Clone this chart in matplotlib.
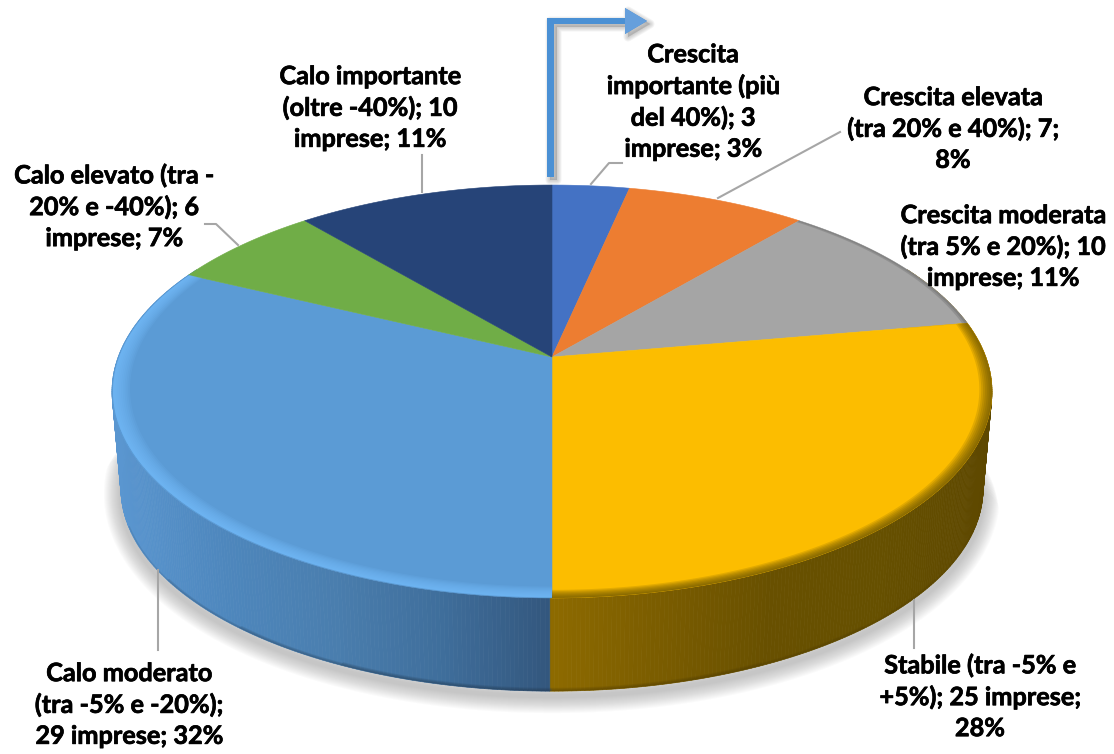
import numpy as np
import matplotlib
matplotlib.use("Agg")
import matplotlib.pyplot as plt
import matplotlib.patheffects as pe
from matplotlib.colors import LinearSegmentedColormap
from matplotlib.patches import Polygon

# imprese per classe di variazione, in senso orario dalle ore 12
counts = [3, 7, 10, 25, 29, 6, 10]
colors = ["#4472c4", "#ed7d31", "#a5a5a5", "#fcbd00", "#5b9bd5", "#70ad47", "#264478"]
labels = [
    "Crescita\nimportante (più\ndel 40%); 3\nimprese; 3%",
    "Crescita elevata\n(tra 20% e 40%); 7;\n8%",
    "Crescita moderata\n(tra 5% e 20%); 10\nimprese; 11%",
    "Stabile (tra -5% e\n+5%); 25 imprese;\n28%",
    "Calo moderato\n(tra -5% e -20%);\n29 imprese; 32%",
    "Calo elevato (tra -\n20% e -40%); 6\nimprese; 7%",
    "Calo importante\n(oltre -40%); 10\nimprese; 11%",
]
label_pos = [(693, 102), (953, 129), (1003, 247), (980, 697), (129, 705), (114, 207), (370, 108)]
leaders = [
    [(591, 184), (609, 163), (622, 163)],
    [(718, 198), (840, 132)],
    None,
    [(914, 600), (914, 648)],
    [(158, 570), (158, 650)],
    [(238, 245), (216, 224), (205, 224)],
    [(422, 192), (422, 155)],
]

CX = 552
K = 0.167


def project(theta, f=1.0, r=433.8, s=200.7, y0=357.0):
    # disco visto in prospettiva: il lato anteriore risulta piu grande
    px, py = f * np.sin(theta), f * np.cos(theta)
    w = 1 + K * py
    return CX + r * px / w, y0 - s * py / w


def rim(a, b, **kw):
    t = np.linspace(a, b, max(int(abs(b - a) * 90), 3))
    x, y = project(t, **kw)
    return np.column_stack([x, y])


def band(a, b, f_out, f_in, **kw):
    # striscia ad arco tra due raggi, serve per smusso e bordi
    return np.vstack([rim(a, b, f=f_out, **kw), rim(b, a, f=f_in, **kw)])


BASE = dict(r=425.0, s=196.7, y0=455.0)

fig = plt.figure(figsize=(11.14, 7.54), dpi=100)
ax = fig.add_axes([0, 0, 1, 1])
ax.set_xlim(0, 1114)
ax.set_ylim(754, 0)
ax.autoscale(False)
ax.axis("off")

edges = np.cumsum([0] + counts) / sum(counts) * 2 * np.pi
GRAY, YELLOW, BLUE = 2, 3, 4

# ombra morbida sotto il bordo inferiore
for i in range(16):
    arc = rim(np.radians(104 - i), np.radians(266 + i), **BASE)
    ax.plot(arc[:, 0], arc[:, 1] + 5, color="#7f7f7f", alpha=0.03, lw=(34 - 2 * i) * 0.72,
            solid_capstyle="round", zorder=1)

# fianco del disco: quadrilateri colorati in base alla posizione orizzontale
side_right = LinearSegmentedColormap.from_list("side_r", ["#8d6a00", "#7a5c00", "#685000", "#665000", "#5e4800"])
side_left = LinearSegmentedColormap.from_list("side_l", ["#5a96d0", "#4e87bd", "#4a7eae", "#3f6e9b", "#33567d"])

steps = np.linspace(np.radians(62), np.radians(298), 480)
for t0, t1 in zip(steps[:-1], steps[1:]):
    x0, y0 = project(t0)
    x1, y1 = project(t1)
    bx0, by0 = project(t0, **BASE)
    bx1, by1 = project(t1, **BASE)
    mid = (x0 + x1) / 2
    if mid >= CX:
        col = side_right((mid - CX) / 440)
    else:
        col = side_left((mid - 112) / 440)
    ax.add_patch(Polygon([(x0, y0), (x1, y1), (bx1, by1), (bx0, by0)], closed=True,
                         fc=col, ec=col, lw=0.5, zorder=2))

# bordo inferiore piu scuro verso il centro, sfuma ai lati
for deg, f_in in [(25, 0.988), (40, 0.991), (55, 0.994), (70, 0.997)]:
    ax.add_patch(Polygon(band(np.pi, np.pi + np.radians(deg), 1.0, f_in, **BASE), closed=True,
                         fc="#1f3347", ec="none", alpha=0.14, zorder=3))
    ax.add_patch(Polygon(band(np.pi - np.radians(deg), np.pi, 1.0, f_in, **BASE), closed=True,
                         fc="#4a3800", ec="none", alpha=0.14, zorder=3))

# spicchi sulla faccia superiore
for i, col in enumerate(colors):
    pts = np.vstack([[[CX, 357.0]], rim(edges[i], edges[i + 1])])
    ax.add_patch(Polygon(pts, closed=True, fc=col, ec=col, lw=0.4, zorder=4))

# smusso: riflesso chiaro sul blu, bordo scuro sul giallo e sul grigio
for f_in in np.linspace(0.96, 0.992, 9):
    ax.add_patch(Polygon(band(edges[BLUE], edges[BLUE + 1], 0.998, f_in), closed=True,
                         fc="#78c0ff", ec="none", alpha=0.12, zorder=5))
for f_in in np.linspace(0.972, 0.997, 7):
    ax.add_patch(Polygon(band(edges[YELLOW], edges[YELLOW + 1], 1.0, f_in), closed=True,
                         fc="#5f4a00", ec="none", alpha=0.16, zorder=5))
for f_in in (0.988, 0.994):
    ax.add_patch(Polygon(band(edges[GRAY], edges[GRAY + 1], 1.0, f_in), closed=True,
                         fc="#555555", ec="none", alpha=0.25, zorder=5))

# freccia piegata sopra il grafico
arrow = [(547, 177), (547, 18), (625, 18), (625, 8), (647, 21), (625, 34), (625, 24), (554, 24), (554, 177)]
for i in range(5):
    ax.add_patch(Polygon(np.array(arrow) + [3, 3], closed=True, fc="#808080", ec="#808080",
                         lw=(9 - 2 * i) * 0.72, alpha=0.09, joinstyle="round", zorder=6))
ax.add_patch(Polygon(arrow, closed=True, fc="#4a90d4", ec="none", zorder=7))
ax.add_patch(Polygon(arrow[3:7], closed=True, fc="#659fdc", ec="none", zorder=7))

# linee guida ed etichette
for path in leaders:
    if path:
        ax.plot(*zip(*path), color="#a6a6a6", lw=1.5, zorder=8)

for text, (x, y) in zip(labels, label_pos):
    ax.text(x, y, text, ha="center", va="center", family="Lato", fontweight="bold",
            fontsize=18.2, color="black", linespacing=1.42, zorder=9,
            path_effects=[pe.withStroke(linewidth=0.5, foreground="black")])

fig.savefig("out.png", dpi=100)
plt.close(fig)
